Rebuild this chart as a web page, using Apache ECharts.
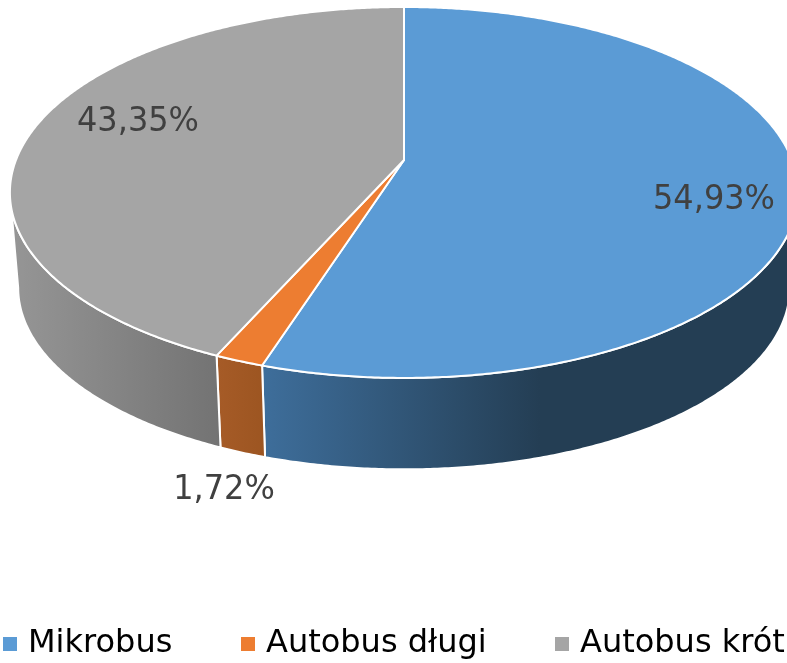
<!DOCTYPE html>
<html>
<head>
<meta charset="utf-8">
<style>
html, body { margin: 0; padding: 0; background: #fff; overflow: hidden; }
#main { width: 787px; height: 663px; }
</style>
<script src="https://cdn.jsdelivr.net/npm/echarts@6/dist/echarts.min.js"></script>
</head>
<body>
<div id="main"></div>
<script>
var categories = ['Mikrobus', 'Autobus długi', 'Autobus krótki'];
var shares = [54.93, 1.72, 43.35];
var colors = ['#5b9bd5', '#ed7d31', '#a5a5a5'];

// side wall gradients, [x, colour] pairs in page pixels
var wallStops = [
	[[262, '#3e6e9b'], [540, '#243e54']],
	[[217, '#a65b27'], [266, '#9c5521']],
	[[10, '#969696'], [220, '#737373']]
];
var labelPos = [[714, 200], [224, 490], [138, 122]];
var legendLeft = [3, 241, 555];

// perspective of the disc, fitted to the picture
var cx = 404, cy = 160, a = 388, b = 179.8, k = 0.175;
var baseY = 256, baseScale = 0.979;
var frontFrom = Math.acos(-k), frontTo = 2 * Math.PI - frontFrom;

function project(t, isBase) {
	var u = Math.sin(t), v = Math.cos(t), w = 1 + k * v;
	var x = a * u / w, y = -b * v / w;
	if (isBase) return [cx + x * baseScale, baseY + y * baseScale];
	return [cx + x, cy + y];
}

function arc(from, to, isBase) {
	var pts = [], n = Math.max(2, Math.ceil((to - from) / 0.008));
	for (var i = 0; i <= n; i++) pts.push(project(from + (to - from) * i / n, isBase));
	return pts;
}

function wallFill(i) {
	var s = wallStops[i], x0 = s[0][0], x1 = s[s.length - 1][0];
	return new echarts.graphic.LinearGradient(x0, 0, x1, 0, s.map(function(d) {
		return { offset: (d[0] - x0) / (x1 - x0), color: d[1] };
	}), true);
}

function renderSlice(params, api) {
	var i = params.seriesIndex;
	var before = 0;
	for (var j = 0; j < i; j++) before += shares[j];
	var from = before / 100 * 2 * Math.PI;
	var to = (before + api.value(0)) / 100 * 2 * Math.PI;
	var children = [];

	var w0 = Math.max(from, frontFrom), w1 = Math.min(to, frontTo);
	if (w1 > w0) {
		children.push({
			type: 'polygon',
			z2: 1,
			shape: { points: arc(w0, w1, false).concat(arc(w0, w1, true).reverse()) },
			style: { fill: wallFill(i), stroke: '#fff', lineWidth: 2, lineJoin: 'round' }
		});
	}
	children.push({
		type: 'polygon',
		z2: 2,
		shape: { points: [[cx, cy]].concat(arc(from, to, false)) },
		style: { fill: colors[i], stroke: '#fff', lineWidth: 2, lineJoin: 'round' }
	});
	// the picture is a little stretched vertically, so the labels are too
	children.push({
		type: 'text',
		z2: 3,
		x: labelPos[i][0],
		y: labelPos[i][1],
		scaleY: 1.08,
		style: {
			text: api.value(0).toFixed(2).replace('.', ',') + '%',
			align: 'center',
			verticalAlign: 'middle',
			fill: '#404040',
			font: '32px "DejaVu Sans"'
		}
	});
	return { type: 'group', children: children };
}

var chart = echarts.init(document.getElementById('main'));
chart.setOption({
	animation: false,
	legend: categories.map(function(name, i) {
		return {
			data: [name],
			left: legendLeft[i],
			top: 628,
			padding: 0,
			icon: 'rect',
			itemWidth: 14,
			itemHeight: 14,
			selectedMode: false,
			textStyle: {
				color: '#000',
				fontFamily: 'DejaVu Sans',
				fontSize: 32,
				padding: [0, 0, 0, 6]
			}
		};
	}),
	series: categories.map(function(name, i) {
		return {
			type: 'custom',
			name: name,
			coordinateSystem: 'none',
			itemStyle: { color: colors[i] },
			renderItem: renderSlice,
			data: [[shares[i]]]
		};
	})
});
</script>
</body>
</html>
